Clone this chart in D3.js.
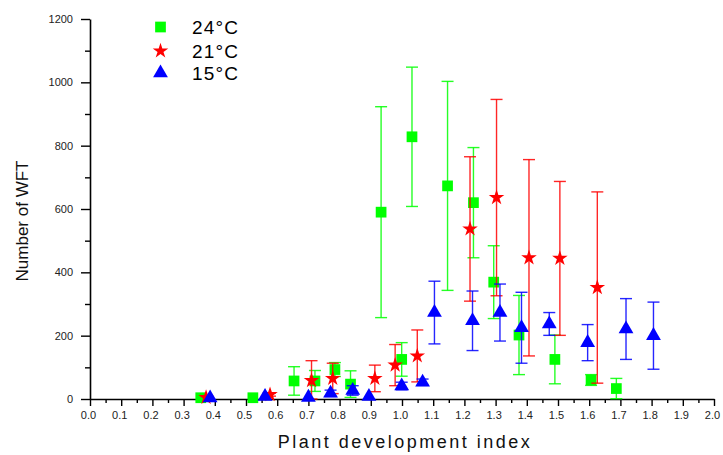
<!DOCTYPE html>
<html><head><meta charset="utf-8">
<script src="https://cdn.jsdelivr.net/npm/d3@7/dist/d3.min.js"></script>
<style>body{margin:0;background:#fff}svg{display:block}text{font-family:Arial,"Liberation Sans",sans-serif}</style>
</head><body><svg id="c" width="723" height="455"></svg>
<script>
// 24°C (green squares)
const g24x = [0.355,0.522,0.654,0.721,0.785,0.835,0.933,0.999,1.032,1.146,1.229,1.294,1.375,1.490,1.606,1.687];
const g24y = [4,4,57,57,93,47,590,125,828,673,620,369,202,125,60,33];
const g24e = [0,0,45,33,22,42,333,53,220,330,174,115,125,77,17,32];
// 21°C (red stars)
const r21x = [0.372,0.577,0.710,0.778,0.913,0.978,1.049,1.218,1.303,1.407,1.506,1.626];
const r21y = [5,14,58,65,65,107,136,537,636,446,444,352];
const r21e = [0,5,63,48,42,65,82,228,310,310,243,302];
// 15°C (blue triangles)
const b15x = [0.385,0.561,0.700,0.771,0.842,0.894,0.999,1.066,1.104,1.226,1.314,1.383,1.472,1.595,1.718,1.806];
const b15y = [3,8,5,18,27,8,41,53,273,247,273,225,237,178,221,200];
const b15e = [0,0,0,10,15,0,12,10,99,94,90,112,36,57,96,106];

const xTicks = d3.range(0, 2.0001, 0.1);
const yTicks = [0,200,400,600,800,1000,1200];
const legendLabels = ["24°C","21°C","15°C"];
const colors = ["#00ff00","#ff0000","#0000ff"];

const svg = d3.select("#c");
const x = d3.scaleLinear().domain([0,2]).range([90,714]);
const y = d3.scaleLinear().domain([0,1200]).range([399,19]);

// axes
const xAxis = d3.axisBottom(x).tickValues(xTicks).tickFormat(d3.format(".1f")).tickSize(7).tickSizeOuter(0);
const gx = svg.append("g").attr("transform","translate(0,399)").call(xAxis);
gx.select(".domain").attr("stroke","#000").attr("stroke-width",1.6);
gx.selectAll(".tick line").attr("stroke","#000").attr("stroke-width",1.4);
gx.selectAll(".tick text").attr("font-size",11).attr("fill","#222").attr("dy","0.95em").attr("dx",-2);
svg.append("g").attr("transform","translate(0,399)")
  .call(d3.axisBottom(x).tickValues(d3.range(0.05,2,0.1)).tickFormat("").tickSize(4).tickSizeOuter(0))
  .call(g=>{g.select(".domain").remove();g.selectAll("line").attr("stroke","#000").attr("stroke-width",1.4);});

const yAxis = d3.axisLeft(y).tickValues(yTicks).tickFormat(d3.format("d")).tickSize(9).tickSizeOuter(0);
const gy = svg.append("g").attr("transform","translate(90,0)").call(yAxis);
gy.select(".domain").attr("stroke","#000").attr("stroke-width",1.6);
gy.selectAll(".tick line").attr("stroke","#000").attr("stroke-width",1.4);
gy.selectAll(".tick text").attr("font-size",11).attr("fill","#222").attr("x",-17);
svg.append("g").attr("transform","translate(90,0)")
  .call(d3.axisLeft(y).tickValues(d3.range(100,1200,200)).tickFormat("").tickSize(5).tickSizeOuter(0))
  .call(g=>{g.select(".domain").remove();g.selectAll("line").attr("stroke","#000").attr("stroke-width",1.4);});

// titles
svg.append("text").attr("x",405).attr("y",448).attr("text-anchor","middle")
  .attr("font-size",18).attr("letter-spacing","2.5px").attr("fill","#111").text("Plant development index");
svg.append("text").attr("transform","translate(28,221) rotate(-90)").attr("text-anchor","middle")
  .attr("font-size",17).attr("fill","#111").text("Number of WFT");

const series = [
  {xs:g24x, ys:g24y, es:g24e, sym:d3.symbolSquare, size:115, color:colors[0]},
  {xs:r21x, ys:r21y, es:r21e, sym:d3.symbolStar, size:75, color:colors[1]},
  {xs:b15x, ys:b15y, es:b15e, sym:d3.symbolTriangle, size:95, color:colors[2]}
];
const cap = 6;
series.forEach(s=>{
  const g = svg.append("g");
  s.xs.forEach((xv,i)=>{
    const e = s.es[i]; if(!e) return;
    const cx = x(xv), y1 = y(s.ys[i]+e), y0 = y(Math.max(0,s.ys[i]-e));
    g.append("line").attr("x1",cx).attr("x2",cx).attr("y1",y1).attr("y2",y0).attr("stroke",s.color).attr("stroke-width",1.4).attr("stroke-opacity",0.85);
    g.append("line").attr("x1",cx-cap).attr("x2",cx+cap).attr("y1",y1).attr("y2",y1).attr("stroke",s.color).attr("stroke-width",1.4).attr("stroke-opacity",0.85);
    g.append("line").attr("x1",cx-cap).attr("x2",cx+cap).attr("y1",y0).attr("y2",y0).attr("stroke",s.color).attr("stroke-width",1.4).attr("stroke-opacity",0.85);
  });
  s.xs.forEach((xv,i)=>{
    g.append("path").attr("d",d3.symbol().type(s.sym).size(s.size)())
      .attr("transform",`translate(${x(xv)},${y(s.ys[i])})`).attr("fill",s.color);
  });
});

// legend
const leg = svg.append("g");
const legY = [27,51,73];
series.forEach((s,i)=>{
  leg.append("path").attr("d",d3.symbol().type(s.sym).size(s.size)()).attr("transform",`translate(160.5,${legY[i]})`).attr("fill",s.color);
  leg.append("text").attr("x",192).attr("y",legY[i]+7).attr("font-size",19).attr("letter-spacing","1.2px").attr("fill","#000").text(legendLabels[i]);
});
</script></body></html>
